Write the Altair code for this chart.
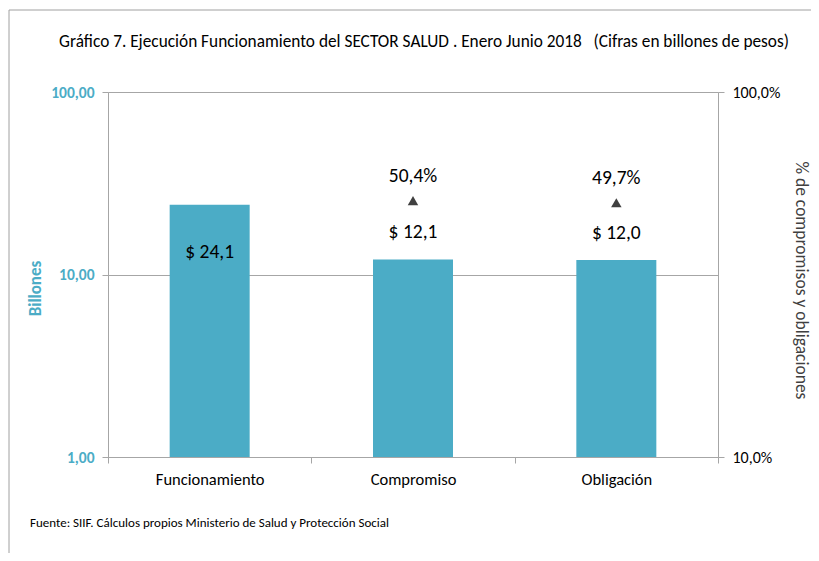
import altair as alt
import pandas as pd

categorias = ["Funcionamiento", "Compromiso", "Obligación"]
valores = [24.1, 12.1, 12.0]
porcentajes = [None, 0.504, 0.497]
ticks_izq = [1, 10, 100]
ticks_der = [0.1, 1.0]
titulo = "Gráfico 7. Ejecución Funcionamiento del SECTOR SALUD . Enero Junio 2018\u00a0\u00a0\u00a0(Cifras en billones de pesos)"
fuente = "Fuente: SIIF. Cálculos propios Ministerio de Salud y Protección Social"

df = pd.DataFrame({"categoria": categorias, "valor": valores, "pct": porcentajes})

FONT = "Carlito, Lato, sans-serif"
TEAL = "#4BACC6"
GRAY = "#A6A6A6"
DARK = "#404040"

x = alt.X(
    "categoria:N", sort=categorias, title=None,
    scale=alt.Scale(paddingInner=0, paddingOuter=0),
    axis=alt.Axis(labelAngle=0, tickBand="extent", domainColor=GRAY, tickColor=GRAY,
                  tickSize=6, labelFontSize=16.5, labelColor="black", labelPadding=8,
                  labelFont=FONT, labelFontWeight="normal", grid=False),
)

y_left = alt.Y(
    "valor:Q", stack=None,
    scale=alt.Scale(type="log", domain=[1, 100]),
    axis=alt.Axis(values=ticks_izq,
                  labelExpr="replace(format(datum.value, '.2f'), '.', ',')",
                  labelFont=FONT, labelFontSize=15.5, labelFontWeight="bold",
                  labelColor=TEAL, labelPadding=8, tickSize=6, tickColor=GRAY,
                  domainColor=GRAY, grid=True, gridColor=GRAY,
                  title="Billones", titleFont=FONT, titleFontSize=17,
                  titleFontWeight="bold", titleColor=TEAL, titleAngle=-90,
                  titleX=-73, titleY=196, titleAlign="center", titleBaseline="middle"),
)

y_right = alt.Y(
    "pct:Q",
    scale=alt.Scale(type="log", domain=[0.1, 1]),
    axis=alt.Axis(orient="right", values=ticks_der,
                  labelExpr="replace(format(datum.value, '.1%'), '.', ',')",
                  labelFont=FONT, labelFontSize=16, labelColor="black",
                  labelPadding=8, tickSize=6, tickColor=GRAY, domainColor=GRAY,
                  grid=False,
                  title="% de compromisos y obligaciones", titleFont=FONT,
                  titleFontSize=17.5, titleFontWeight="normal", titleColor=DARK,
                  titleAngle=90, titleX=82, titleY=188, titleAlign="center",
                  titleBaseline="middle"),
)

base = alt.Chart(df)

barras = base.mark_bar(color=TEAL, size=80).encode(x=x, y=y_left)

etiqueta_dentro = base.transform_filter("datum.categoria == 'Funcionamiento'").transform_calculate(
    lbl="'$ ' + replace(format(datum.valor, '.1f'), '.', ',')"
).mark_text(font=FONT, fontSize=19.5, color="black", baseline="middle", dy=47).encode(
    x=x, y=y_left, text="lbl:N")

etiqueta_arriba = base.transform_filter("datum.categoria != 'Funcionamiento'").transform_calculate(
    lbl="'$ ' + replace(format(datum.valor, '.1f'), '.', ',')"
).mark_text(font=FONT, fontSize=19.5, color="black", baseline="middle", dy=-27).encode(
    x=x, y=y_left, text="lbl:N")

izq = alt.layer(barras, etiqueta_dentro, etiqueta_arriba)

triangulos = base.transform_filter("isValid(datum.pct)").mark_point(
    shape="triangle-up", filled=True, color=DARK, size=110, opacity=1).encode(x=x, y=y_right)

etiqueta_pct = base.transform_filter("isValid(datum.pct)").transform_calculate(
    lbl="replace(format(datum.pct, '.1%'), '.', ',')"
).mark_text(font=FONT, fontSize=19.5, color="black", baseline="middle", dy=-25).encode(
    x=x, y=y_right, text="lbl:N")

der = alt.layer(triangulos, etiqueta_pct)

uno = pd.DataFrame({"t": [fuente], "titulo": [titulo]})
nota = alt.Chart(uno).mark_text(font=FONT, fontSize=13, color="black", align="left",
                                baseline="middle").encode(
    text="t:N", x=alt.value(-78), y=alt.value(431))

encabezado = alt.Chart(uno).mark_text(font=FONT, fontSize=17.3, color="black", align="center",
                                      baseline="middle").encode(
    text="titulo:N", x=alt.value(316), y=alt.value(-50))

borde_sup = alt.Chart(uno).mark_rule(color="#A0A0A0", strokeWidth=1).encode(
    x=alt.value(-99), x2=alt.value(711), y=alt.value(-82), y2=alt.value(-82))
borde_izq = alt.Chart(uno).mark_rule(color="#A0A0A0", strokeWidth=1).encode(
    x=alt.value(-99), x2=alt.value(-99), y=alt.value(-82), y2=alt.value(470))

chart = alt.layer(izq, der, nota, encabezado, borde_sup, borde_izq).resolve_scale(
    y="independent"
).properties(
    width=610, height=365,
    autosize=alt.AutoSizeParams(type="none"),
    padding={"left": 100, "top": 84, "right": 93, "bottom": 96},
).configure_view(strokeWidth=0).configure(background="white")

chart.save("out.html", embed_options={"renderer": "svg", "actions": False})
